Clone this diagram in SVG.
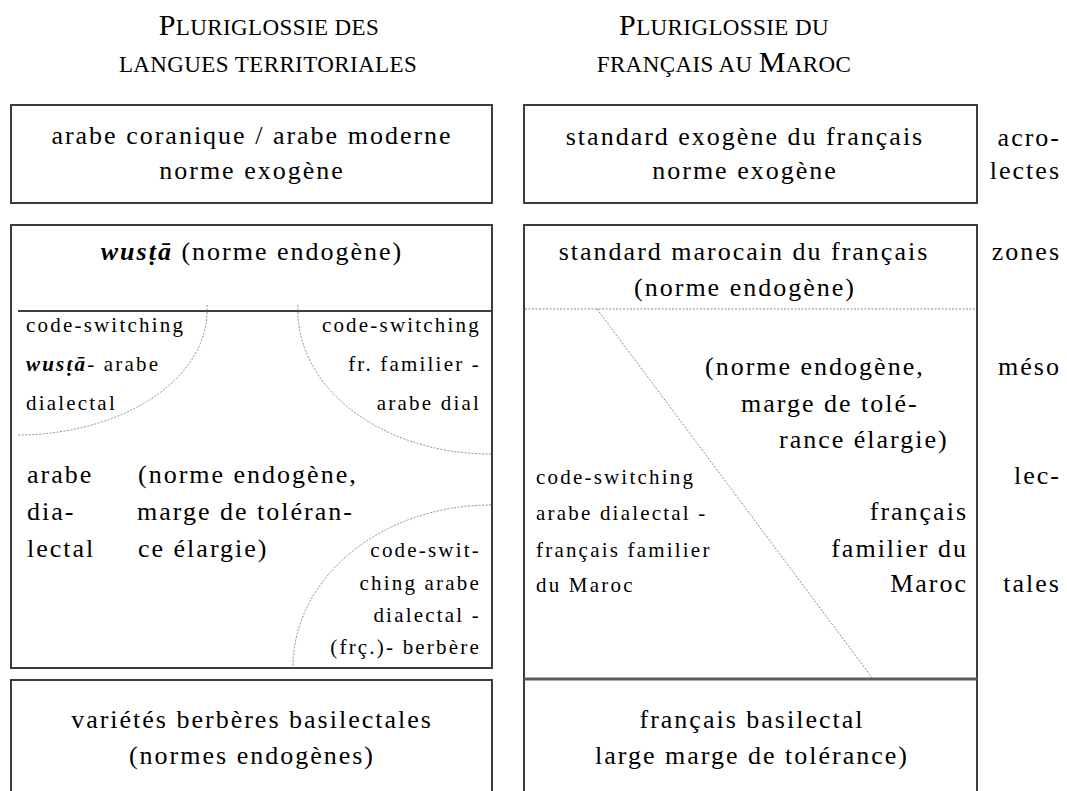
<svg xmlns="http://www.w3.org/2000/svg" width="1067" height="791" viewBox="0 0 1067 791">
<style>
text { font-family: "Liberation Serif", "Times New Roman", serif; fill: #000; }
.t { font-size: 26px; letter-spacing: 2px; }
.s { font-size: 21px; letter-spacing: 2.2px; }
.ti { font-size: 23px; letter-spacing: 0.4px; }
.big { font-size: 30px; }
.bi { font-weight: bold; font-style: italic; }
.m { text-anchor: middle; }
.e { text-anchor: end; }
.box { fill: #fff; stroke: #3c3c3c; stroke-width: 2; }
.sep { stroke: #000; stroke-width: 1.5; fill: none; }
.thick { stroke: #5a5a5a; stroke-width: 3; fill: none; }
.dot { fill: none; stroke: #8c8c8c; stroke-width: 1; stroke-dasharray: 2 1.5; }
</style>
<rect width="1067" height="791" fill="#fff"/>

<g id="titles">
  <text class="ti m" x="269" y="35"><tspan class="big">P</tspan>LURIGLOSSIE DES</text>
  <text class="ti m" x="268" y="72">LANGUES TERRITORIALES</text>
  <text class="ti m" x="724" y="35"><tspan class="big">P</tspan>LURIGLOSSIE DU</text>
  <text class="ti m" x="724" y="72">FRANÇAIS AU <tspan class="big">M</tspan>AROC</text>
</g>

<g id="left-acrolecte">
  <rect class="box" x="11" y="105" width="481" height="98"/>
  <text class="t m" x="252" y="144">arabe coranique / arabe moderne</text>
  <text class="t m" x="252" y="179">norme exogène</text>
</g>

<g id="left-mesolecte">
  <rect class="box" x="11" y="225" width="481" height="443"/>
  <text class="t m" x="252" y="260"><tspan class="bi">wusṭā</tspan> (norme endogène)</text>
  <text class="s" x="26" y="332">code-switching</text>
  <text class="s" x="26" y="371"><tspan class="bi">wusṭā</tspan>- arabe</text>
  <text class="s" x="26" y="410">dialectal</text>
  <text class="s e" x="481" y="332">code-switching</text>
  <text class="s e" x="481" y="371">fr. familier -</text>
  <text class="s e" x="481" y="410">arabe dial</text>
  <text class="t" x="27" y="483">arabe</text>
  <text class="t" x="27" y="520">dia-</text>
  <text class="t" x="27" y="557">lectal</text>
  <text class="t" x="138" y="483">(norme endogène,</text>
  <text class="t" x="137" y="520">marge de toléran-</text>
  <text class="t" x="138" y="557">ce élargie)</text>
  <text class="s e" x="481" y="557">code-swit-</text>
  <text class="s e" x="481" y="590">ching arabe</text>
  <text class="s e" x="481" y="622">dialectal -</text>
  <text class="s e" x="481" y="654">(frç.)- berbère</text>
</g>

<g id="left-basilecte">
  <rect class="box" x="11" y="680" width="481" height="140"/>
  <text class="t m" x="252" y="728">variétés berbères basilectales</text>
  <text class="t m" x="252" y="764">(normes endogènes)</text>
</g>

<g id="right-acrolecte">
  <rect class="box" x="524" y="105" width="453" height="98"/>
  <text class="t m" x="745" y="145">standard exogène du français</text>
  <text class="t m" x="745" y="179">norme exogène</text>
</g>

<g id="right-mesolecte">
  <rect class="box" x="524" y="225" width="453" height="600"/>
  <text class="t m" x="744" y="260">standard marocain du français</text>
  <text class="t m" x="745" y="296">(norme endogène)</text>
  <text class="t" x="705" y="375">(norme endogène,</text>
  <text class="t" x="741" y="412">marge de tolé-</text>
  <text class="t" x="779" y="448">rance élargie)</text>
  <text class="s" x="536" y="484">code-switching</text>
  <text class="s" x="536" y="520">arabe dialectal -</text>
  <text class="s" x="536" y="557">français familier</text>
  <text class="s" x="536" y="592">du Maroc</text>
  <text class="t e" x="968" y="520">français</text>
  <text class="t e" x="968" y="557">familier du</text>
  <text class="t e" x="968" y="592">Maroc</text>
</g>

<g id="right-basilecte">
  <text class="t m" x="752" y="728">français basilectal</text>
  <text class="t m" x="752" y="764">large marge de tolérance)</text>
</g>

<g id="side-labels">
  <text class="t e" x="1061" y="146">acro-</text>
  <text class="t e" x="1061" y="179">lectes</text>
  <text class="t e" x="1061" y="260">zones</text>
  <text class="t e" x="1061" y="375">méso</text>
  <text class="t e" x="1061" y="484">lec-</text>
  <text class="t e" x="1061" y="592">tales</text>
</g>

<g id="connectors">
  <line class="sep" x1="18" y1="311" x2="491" y2="311"/>
  <path class="dot" d="M 207 305 L 207 311 A 190 124 0 0 1 17 435"/>
  <path class="dot" d="M 298 305 L 298 311 A 192 143 0 0 0 491 454"/>
  <path class="dot" d="M 491 505 A 198 162 0 0 0 293 667"/>
  <line class="dot" x1="525" y1="309" x2="976" y2="309"/>
  <line class="dot" x1="597" y1="309" x2="873" y2="679"/>
  <line class="thick" x1="524" y1="679" x2="977" y2="679"/>
</g>
</svg>
